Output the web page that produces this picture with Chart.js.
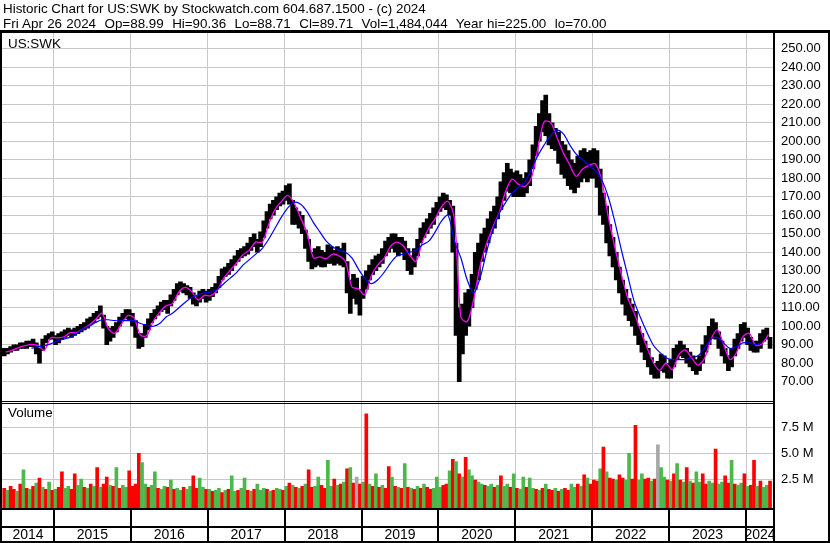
<!DOCTYPE html>
<html><head><meta charset="utf-8">
<script src="https://cdn.jsdelivr.net/npm/chart.js@4/dist/chart.umd.min.js"></script>
<style>
html,body{margin:0;padding:0;background:#fff;}
#wrap{position:relative;width:830px;height:543px;overflow:hidden;background:#fff;}
canvas{position:absolute;left:0;top:0;}
.t{position:absolute;font-family:'Liberation Sans',Arial,sans-serif;font-size:13.4px;color:#000;white-space:pre;line-height:15px;}
</style></head><body>
<div id="wrap">
<canvas id="c" width="830" height="543"></canvas>
<div class="t" style="left:3px;top:1px">Historic Chart for US:SWK by Stockwatch.com 604.687.1500 - (c) 2024</div>
<div class="t" style="left:3px;top:16px;word-spacing:0.5px">Fri Apr 26 2024  Op=88.99  Hi=90.36  Lo=88.71  Cl=89.71  Vol=1,484,044  Year hi=225.00  lo=70.00</div>
<div class="t" style="left:8px;top:36px">US:SWK</div>
<div class="t" style="left:8px;top:405px">Volume</div>
</div>
<script>
// ---------------- data ----------------
const yearLabels = ['2014','2015','2016','2017','2018','2019','2020','2021','2022','2023','2024'];
const priceTicks = [70,80,90,100,110,120,130,140,150,160,170,180,190,200,210,220,230,240,250];
const volumeTicks = [2.5,5.0,7.5]; // millions

// half-month bars, May 2014 .. Apr 2024 (high / low)
const priceHigh = [
 88,88,89,90,90,91,91,92,92,93,91,88,93,95,96,97,
 95,96,97,98,99,98,99,100,101,102,104,105,107,108,111,106,100,99,100,102,105,107,109,109,
 107,103,96,96,101,104,107,109,111,113,114,114,117,120,123,124,123,122,121,118,116,119,120,119,
 120,121,123,127,131,132,134,136,138,141,142,143,145,148,150,147,151,157,162,166,168,170,172,173,
 176,177,168,164,162,160,152,147,140,142,143,141,140,144,143,141,143,142,145,135,125,128,126,120,
 127,130,133,136,138,139,142,146,148,150,150,148,148,146,142,138,142,147,153,156,158,161,164,167,
 170,172,171,168,165,145,110,112,118,120,128,140,145,150,153,158,162,165,170,178,183,188,185,183,
 184,182,180,183,190,198,208,215,222,225,215,210,207,205,200,198,195,190,188,192,195,196,194,195,
 196,195,185,172,165,155,148,140,132,125,120,115,112,108,100,96,92,88,83,80,81,85,84,80,
 82,88,90,92,90,88,86,84,82,84,90,95,100,104,102,97,92,88,84,88,93,96,101,102,
 99,94,92,92,96,98,99,94];
const priceLow = [
 84,85,86,87,87,88,88,88,89,89,85,80,87,91,93,93,
 90,91,93,94,95,94,95,96,97,98,99,101,102,104,105,99,90,92,94,97,100,103,104,103,
 100,94,88,89,94,98,102,104,106,108,109,107,111,114,117,119,118,117,115,112,111,113,115,113,
 114,116,118,121,125,127,128,130,133,135,137,138,139,141,143,140,143,148,153,158,160,163,165,166,
 168,166,155,155,153,150,142,135,131,132,133,132,132,134,134,133,134,133,132,118,107,115,112,106,
 115,120,125,128,130,132,134,138,140,142,140,138,140,136,130,128,132,138,145,148,150,153,155,160,
 162,164,163,160,140,95,70,85,95,100,110,120,125,135,140,145,150,153,158,163,168,173,172,170,
 170,170,170,172,176,185,192,200,205,203,198,196,195,188,182,180,176,174,172,175,178,180,178,180,
 180,175,160,155,145,138,132,125,118,112,106,103,100,95,90,86,82,78,74,72,72,76,75,72,
 72,78,82,84,83,80,78,76,74,76,80,86,90,94,93,88,84,80,76,78,84,88,92,94,
 90,87,86,86,88,92,93,88];

// half-month volume silhouette (millions) and up/down flag
const volumeM = [
 1.6,1.4,1.8,1.5,1.3,2.0,3.4,1.6,1.5,1.8,2.1,2.6,1.7,1.5,2.2,1.4,
 1.5,1.7,3.2,1.6,1.8,1.5,3.0,1.9,2.5,1.7,1.6,2.0,1.8,3.6,1.7,2.0,2.7,1.9,1.8,3.6,1.6,1.9,1.7,3.3,
 1.8,2.0,5.0,4.1,2.0,1.7,1.9,3.2,1.6,1.5,1.8,1.7,2.4,1.5,1.6,1.4,1.7,1.5,1.8,2.8,1.6,2.6,1.7,1.5,
 1.5,1.3,1.4,1.6,1.2,1.4,1.5,2.8,1.3,1.4,1.6,2.6,1.4,1.3,1.5,2.0,1.4,1.6,1.5,1.3,1.4,1.6,1.5,1.4,
 1.8,2.1,1.9,1.7,1.6,1.8,2.0,3.4,1.7,1.8,2.7,1.9,1.6,4.3,1.8,2.5,1.9,2.0,2.2,3.5,3.6,2.1,2.7,2.0,
 2.2,8.8,2.0,1.8,3.0,1.7,1.9,1.6,3.7,2.7,1.8,1.7,1.6,4.0,1.7,1.6,1.5,1.8,1.6,2.0,1.7,1.5,1.6,2.7,
 1.7,1.9,2.0,3.3,4.4,4.2,3.0,2.7,4.6,3.4,2.8,2.4,2.2,2.0,1.9,1.8,2.0,1.7,1.9,2.8,1.8,2.0,1.7,3.0,
 1.6,1.5,2.7,1.7,2.6,1.6,1.5,1.4,1.6,2.0,1.5,1.4,1.6,1.3,1.5,1.6,1.4,2.0,1.7,2.0,1.8,2.9,2.6,2.0,
 2.4,2.3,3.5,5.6,3.2,2.6,2.5,2.4,2.9,2.6,2.4,5.0,2.5,7.7,2.4,3.0,2.5,2.6,2.3,2.5,5.8,3.6,2.7,2.4,
 2.3,3.0,4.0,2.4,2.2,3.6,2.3,2.1,3.2,2.2,3.0,2.0,2.3,2.1,5.4,2.0,2.2,2.8,2.1,4.3,2.0,1.9,2.1,3.0,
 1.8,1.9,4.3,1.8,2.3,1.7,1.9,2.3];
const volumeUpDown = (
 "duddudududududud"+
 "udduudduududududdududuud"+
 "ddduuduuduududuuduudduud"+
 "uduududuuduududuuududuud"+
 "ududududduudduududududnd"+
 "ududududdududududududduu"+
 "uddudududuuduuduududuudu"+
 "duuduudududdududduududud"+
 "ddududdudduudduuddudnuud"+
 "ududududuudduuduudduduud"+
 "udduduud").split('');

// moving averages (monthly readings)
const blueMA = [ // Sep 2014 .. Apr 2024
 88,89,89.5,90.5,92,93,94,96,98.5,100,
 102,103.5,103.5,103,103,103,103,101.5,100.5,100,
 101.5,105,107,110,113,115.5,117,118,118.5,120,
 123,126,129,133,136,139,142,147,153,159,
 164,167,166,162,156,151,146,143,141,140,
 137,131,126,123,125,129,134,138,139,140,
 141,144,146,151,157,160,146,137,125,
 118,126,140,152,161,167,172,175,178,185,
 192,198,203,206,204,198,193,190,187,184,
 179,170,157,142,128,114,105,97,90,86,
 83,82,82,82,83,84,88,93,94,91,
 88,89,91,91,90,91];
const pinkMA = [ // May 2014 .. Apr 2024
 86,87,88.5,89.5,90.2,89.5,87,93.7,
 93.7,94.2,96.5,96.5,98.5,100.7,103.7,107,98.7,96.2,101,105.7,
 104.7,95.2,95,102.7,107.5,111,112.2,118.5,121,118.7,114.2,116.7,
 116.5,119.5,126,130.2,134.2,138.7,141.2,145.5,145.2,155,163,167.5,
 170.7,166.5,158.5,150.5,137,137.5,136.5,139,138,135,121.2,120.2,
 117,127,133,136.7,143,145.5,143.5,138.5,135,145.7,153,158.2,
 164.7,167.5,158.2,105,102.5,114.5,132.5,144.5,153.7,161.5,173,179.5,
 176.7,175.5,180.2,195.7,210.5,210.2,202,193.7,187.2,181,185,187,
 187.7,178.7,159.2,143.2,128.7,115.7,107.5,98.2,89,80.7,76.2,80,
 76.5,84.5,87.2,83,79,82.5,92.7,98.2,90.2,82,85.7,94.2,
 96.2,89.7,90.5,95.5];

// ---------------- time positions ----------------
const X_MIN = 2014.325, X_MAX = 2024.364;
const halfMonths = [];
for (let k = 0; k < priceHigh.length; k++) {
  const mi = 4 + Math.floor(k / 2);
  halfMonths.push(2014 + Math.floor(mi / 12) + ((mi % 12) + (k % 2) * 0.5 + 0.25) / 12);
}
function monthly(startMonthIndex, n) {
  const out = [];
  for (let k = 0; k < n; k++) {
    const mi = startMonthIndex + k;
    out.push(2014 + Math.floor(mi / 12) + ((mi % 12) + 0.5) / 12);
  }
  return out;
}
const blueT = monthly(8, blueMA.length);
const pinkT = monthly(4, pinkMA.length);
const yearBounds = yearLabels.slice(1).map(Number);
const yearMids = yearLabels.map(s => {
  const y = Number(s);
  return (Math.max(y, X_MIN) + Math.min(y + 1, X_MAX)) / 2;
});

const dirColor = { u: '#4cb84c', d: '#ff0000', n: '#a8a8a8' };

// ---------------- frame plugin ----------------
const framePlugin = {
  id: 'frame',
  afterDraw(chart) {
    const ctx = chart.ctx;
    const ca = chart.chartArea;
    const py = chart.scales.y;
    const xs = chart.scales.x;
    ctx.save();
    ctx.fillStyle = '#000';
    ctx.fillRect(0, 30, 830, 3);            // top border
    ctx.fillRect(0, 30, 2, 513);            // left border
    ctx.fillRect(828, 30, 2, 513);          // right border
    ctx.fillRect(0, 541, 830, 2);           // bottom border
    ctx.fillRect(ca.right - 1, 30, 2, 513); // axis separator
    const pb = Math.round(py.bottom);
    ctx.fillRect(0, pb - 1, ca.right, 1);
    ctx.fillRect(0, pb + 1, ca.right, 1);
    const bb = Math.round(ca.bottom);
    ctx.fillRect(0, bb - 1, ca.right, 2);
    ctx.fillRect(0, 526, ca.right, 2);
    yearBounds.forEach(v => {
      const x = Math.round(xs.getPixelForValue(v));
      ctx.fillRect(x - 1, bb, 2, 541 - bb);
    });
    ctx.restore();
  }
};

const gridColor = '#c8c8c8';
Chart.defaults.font.family = "'Liberation Sans', Arial, sans-serif";
Chart.defaults.color = '#000';
const noPad = s => { s.paddingLeft = 0; s.paddingRight = 0; };

new Chart(document.getElementById('c'), {
  type: 'bar',
  data: {
    datasets: [
      {
        type: 'line', label: 'ma short', yAxisID: 'y', xAxisID: 'x',
        data: pinkT.map((t, i) => ({ x: t, y: pinkMA[i] })),
        borderColor: '#ff00ff', borderWidth: 1.3, pointRadius: 0, tension: 0.3, order: 1
      },
      {
        type: 'line', label: 'ma long', yAxisID: 'y', xAxisID: 'x',
        data: blueT.map((t, i) => ({ x: t, y: blueMA[i] })),
        borderColor: '#0000ff', borderWidth: 1.2, pointRadius: 0, tension: 0.3, order: 0
      },
      {
        type: 'bar', label: 'price', yAxisID: 'y', xAxisID: 'x',
        data: halfMonths.map((t, i) => ({ x: t, y: [priceLow[i], priceHigh[i]] })),
        backgroundColor: '#000', barThickness: 4, grouped: false, borderWidth: 0, order: 3
      },
      {
        type: 'bar', label: 'volume', yAxisID: 'yv', xAxisID: 'x',
        data: halfMonths.map((t, i) => ({ x: t, y: volumeM[i] })),
        backgroundColor: volumeUpDown.map(d => dirColor[d]),
        barThickness: 3, grouped: false, borderWidth: 0, base: -0.4, order: 4
      }
    ]
  },
  options: {
    responsive: false, animation: false, devicePixelRatio: 1,
    layout: { padding: { left: 2, top: 33, right: 0, bottom: 0 } },
    plugins: { legend: { display: false }, tooltip: { enabled: false } },
    scales: {
      x: {
        type: 'linear', position: 'bottom', min: X_MIN, max: X_MAX, offset: false,
        afterBuildTicks: s => { s.ticks = yearBounds.map(v => ({ value: v })); },
        grid: { color: gridColor, drawTicks: false, offset: false },
        border: { display: false },
        ticks: { display: false },
        afterFit: s => { s.height = 0; noPad(s); }
      },
      xl: {
        type: 'linear', position: 'bottom', min: X_MIN, max: X_MAX, offset: false,
        afterBuildTicks: s => { s.ticks = yearMids.map(v => ({ value: v })); },
        grid: { display: false, drawTicks: false, offset: false },
        border: { display: false },
        ticks: {
          autoSkip: false, maxRotation: 0, padding: 18,
          font: { size: 14 }, color: '#000',
          callback: (v, i) => yearLabels[i]
        },
        afterFit: s => { s.height = 34; noPad(s); }
      },
      y: {
        type: 'linear', position: 'right', stack: 'panels', stackWeight: 3.43,
        min: 59.3, max: 258.5,
        afterBuildTicks: s => { s.ticks = priceTicks.map(v => ({ value: v })); },
        grid: { color: gridColor, drawTicks: false },
        border: { display: false },
        ticks: { autoSkip: false, padding: 7, font: { size: 13 }, color: '#000', callback: v => Number(v).toFixed(2) },
        afterFit: s => { s.width = 56; }
      },
      yv: {
        type: 'linear', position: 'right', stack: 'panels', stackWeight: 1,
        min: -0.4, max: 10.0,
        afterBuildTicks: s => { s.ticks = volumeTicks.map(v => ({ value: v })); },
        grid: { color: gridColor, drawTicks: false },
        border: { display: false },
        ticks: { autoSkip: false, padding: 7, font: { size: 13 }, color: '#000', callback: v => Number(v).toFixed(1) + ' M' },
        afterFit: s => { s.width = 56; }
      }
    }
  },
  plugins: [framePlugin]
});
</script>
</body></html>
